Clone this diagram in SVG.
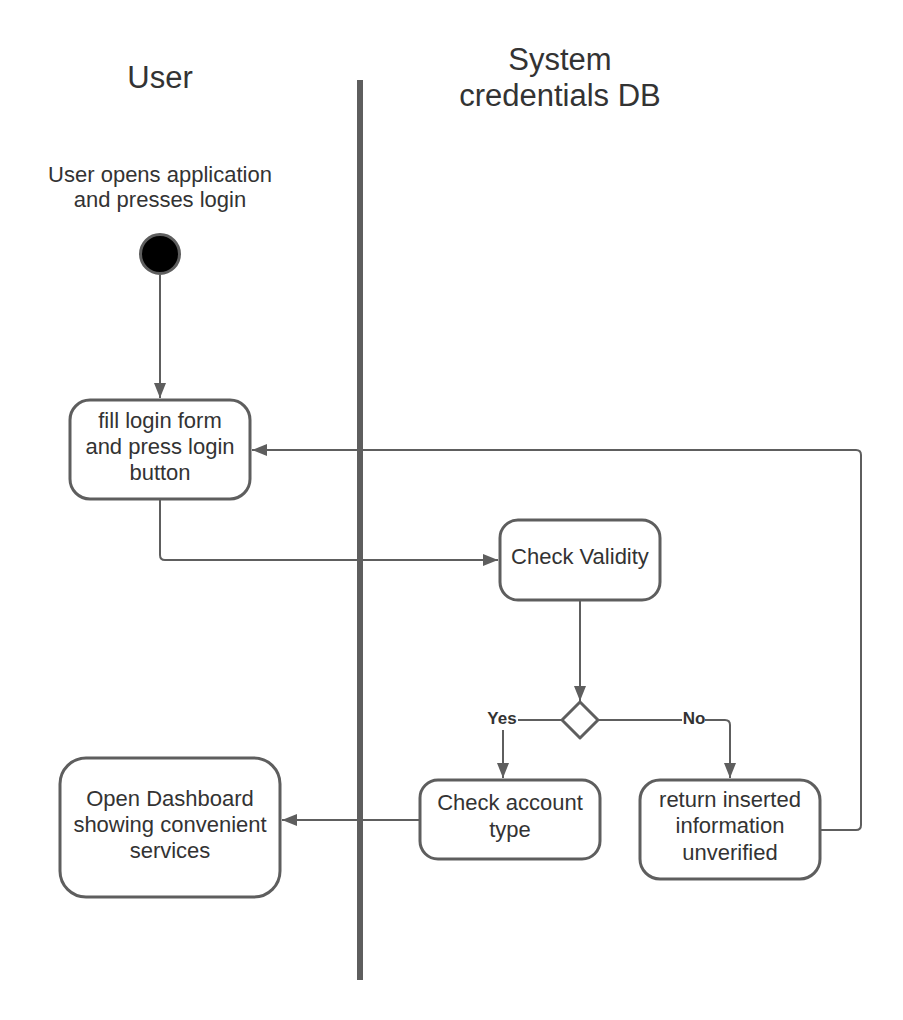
<svg xmlns="http://www.w3.org/2000/svg" width="903" height="1020" viewBox="0 0 903 1020">
<defs>
<marker id="arr" markerWidth="16" markerHeight="12" refX="15" refY="6" orient="auto" markerUnits="userSpaceOnUse">
<path d="M0,0 L15,6 L0,12 Z" fill="#5e5e5e"/>
</marker>
<style>
.t{font-family:"Liberation Sans",Arial,sans-serif;fill:#333333;text-anchor:middle}
.n{font-size:22px}
.h{font-size:31px}
.b{font-size:17px;font-weight:bold}
.box{fill:#ffffff;stroke:#5e5e5e;stroke-width:3}
.c{fill:none;stroke:#5e5e5e;stroke-width:2}
</style>
</defs>
<rect width="903" height="1020" fill="#ffffff"/>
<g id="lanes">
<rect x="357" y="80" width="6" height="900" fill="#5e5e5e"/>
<text class="t h" x="160" y="88">User</text>
<text class="t h" x="560" y="70">System</text>
<text class="t h" x="560" y="106">credentials DB</text>
</g>
<g id="connectors">
<path class="c" d="M160,275 V398" marker-end="url(#arr)"/>
<path class="c" d="M160,500 V555 Q160,560 165,560 H498" marker-end="url(#arr)"/>
<path class="c" d="M580,600 V701" marker-end="url(#arr)"/>
<path class="c" d="M562,720 H518"/>
<path class="c" d="M503,730 V778" marker-end="url(#arr)"/>
<path class="c" d="M598,720 H682"/>
<path class="c" d="M705,720 H725 Q730,720 730,725 V778" marker-end="url(#arr)"/>
<path class="c" d="M821,830 H856 Q861,830 861,825 V455 Q861,450 856,450 H252" marker-end="url(#arr)"/>
<path class="c" d="M419,820 H282" marker-end="url(#arr)"/>
<text class="t b" x="502" y="724">Yes</text>
<text class="t b" x="694" y="724">No</text>
</g>
<g id="start">
<text class="t n" x="160" y="182">User opens application</text>
<text class="t n" x="160" y="207">and presses login</text>
<circle cx="160" cy="254" r="19.5" fill="#000000" stroke="#5e5e5e" stroke-width="3"/>
</g>
<g id="fill-login">
<rect class="box" x="70" y="400" width="180" height="99" rx="20"/>
<text class="t n" x="160" y="428">fill login form</text>
<text class="t n" x="160" y="454">and press login</text>
<text class="t n" x="160" y="480">button</text>
</g>
<g id="check-validity">
<rect class="box" x="500" y="520" width="160" height="80" rx="18"/>
<text class="t n" x="580" y="564">Check Validity</text>
</g>
<g id="decision">
<path d="M580,702 L598,720 L580,738 L562,720 Z" fill="#ffffff" stroke="#5e5e5e" stroke-width="3" stroke-linejoin="round"/>
</g>
<g id="check-account">
<rect class="box" x="420" y="780" width="180" height="79" rx="18"/>
<text class="t n" x="510" y="810">Check account</text>
<text class="t n" x="510" y="837">type</text>
</g>
<g id="return-unverified">
<rect class="box" x="640" y="780" width="180" height="99" rx="20"/>
<text class="t n" x="730" y="807">return inserted</text>
<text class="t n" x="730" y="833">information</text>
<text class="t n" x="730" y="860">unverified</text>
</g>
<g id="dashboard">
<rect class="box" x="60" y="758" width="220" height="139" rx="26"/>
<text class="t n" x="170" y="806">Open Dashboard</text>
<text class="t n" x="170" y="832">showing convenient</text>
<text class="t n" x="170" y="858">services</text>
</g>
</svg>
